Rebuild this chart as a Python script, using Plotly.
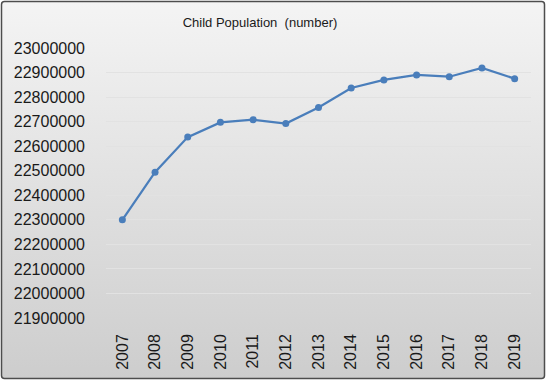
import base64
import plotly.graph_objects as go

years = ["2007", "2008", "2009", "2010", "2011", "2012", "2013",
         "2014", "2015", "2016", "2017", "2018", "2019"]
population = [22300000, 22494000, 22637000, 22697000, 22708000, 22692000, 22758000,
              22837000, 22870000, 22890000, 22883000, 22919000, 22875000]
y_ticks = list(range(21900000, 23000001, 100000))

W, H = 546, 380
ML, MR, MT, MB = 106, 15, 48, 62
PW, PH = W - ML - MR, H - MT - MB

svg = f'''<svg xmlns="http://www.w3.org/2000/svg" width="{W}" height="{H}" viewBox="0 0 {W} {H}">
<defs><linearGradient id="g" x1="0" y1="0" x2="0" y2="1">
<stop offset="0" stop-color="#f4f4f4"/><stop offset="1" stop-color="#cdcdcd"/>
</linearGradient></defs>
<rect x="1.5" y="1.5" width="{W-3}" height="{H-3}" rx="3" ry="3" fill="url(#g)" stroke="#4d4d4d" stroke-width="1.5"/>
</svg>'''
src = "data:image/svg+xml;base64," + base64.b64encode(svg.encode()).decode()

fig = go.Figure()
fig.add_trace(go.Scatter(
    x=years, y=population, mode="lines+markers",
    line=dict(color="#4a7ebb", width=2.25),
    marker=dict(symbol="circle", size=7, color="#4a7ebb"),
    hoverinfo="x+y",
))

fig.add_layout_image(dict(
    source=src, xref="paper", yref="paper",
    x=-ML / PW, y=1 + MT / PH, sizex=W / PW, sizey=H / PH,
    xanchor="left", yanchor="top", sizing="stretch", layer="below",
))

fig.update_layout(
    width=W, height=H,
    margin=dict(l=ML, r=MR, t=MT, b=MB, autoexpand=False),
    paper_bgcolor="white", plot_bgcolor="rgba(0,0,0,0)",
    showlegend=False,
    font=dict(family="Liberation Sans, Arial, sans-serif", color="#1a1a1a"),
    title=dict(text="Child Population  (number)", x=260 / W, xanchor="center",
               y=1 - 22 / H, yanchor="middle",
               font=dict(size=13, color="#1a1a1a")),
    xaxis=dict(type="category", range=[-0.5, len(years) - 0.5], tickangle=-90,
               showgrid=False, zeroline=False,
               showline=False, ticks="", tickfont=dict(size=16),
               ticklabelstandoff=12, automargin=False),
    yaxis=dict(range=[21900000, 23000000], tickvals=y_ticks,
               ticktext=[str(v) for v in y_ticks], showgrid=True,
               gridcolor="#e2e2e2", gridwidth=1, zeroline=False, showline=False,
               ticks="", tickfont=dict(size=16), ticklabelstandoff=20,
               automargin=False),
)

fig.write_html(
    "out.html",
    config={"displayModeBar": False},
    post_script="document.body.style.margin='0';document.body.style.overflow='hidden';",
)
